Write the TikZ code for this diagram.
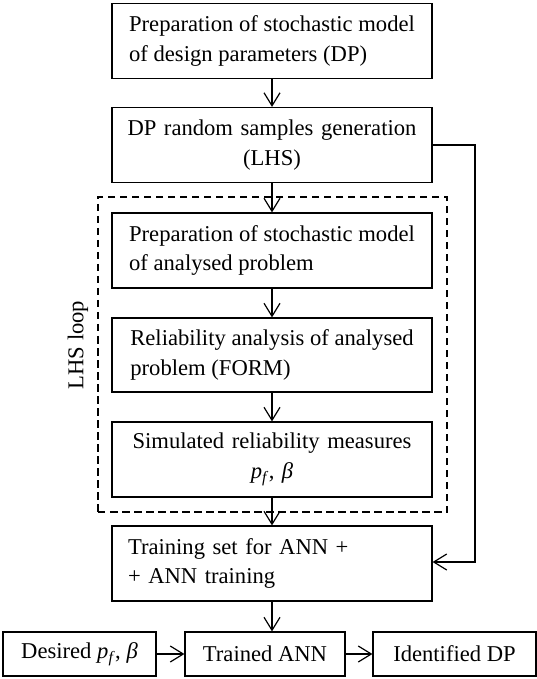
\documentclass[tikz,border=0pt]{standalone}
\usepackage{fontspec}
\setmainfont{Liberation Serif}
\usetikzlibrary{arrows.meta}
\begin{document}
\begin{tikzpicture}[x=1bp,y=-1bp,
  box/.style={draw,line width=1.2bp,minimum width=320bp,minimum height=75bp,inner xsep=0bp,anchor=center},
  ltxt/.style={align=left},
  ctxt/.style={text width=310bp,align=center},
  small/.style={draw,line width=1.2bp,minimum height=44bp,inner xsep=0bp,anchor=center},
  arr/.style={line width=1.2bp,-{Straight Barb[length=13bp,width=16bp,line width=1.2bp]}},
  every node/.style={font=\fontsize{22.7}{30}\selectfont}
]
\useasboundingbox (0,0) rectangle (537,679);
\node[box,ltxt] (b1) at (272,41) {Preparation of stochastic model\\of design parameters (DP)};
\node[box,ctxt] (b2) at (272,145) {DP random samples generation\\(LHS)};
\node[box,ltxt] (b3) at (272,250.5) {Preparation of stochastic model\\of analysed problem};
\node[box,ltxt,minimum height=74bp] (b4) at (272,355) {Reliability analysis of analysed\\problem (FORM)};
\node[box,ctxt] (b5) at (272,459.5) {Simulated reliability measures\\\textit{p}\textsubscript{\textit{f}}, \textit{β}};
\node[box,text width=288bp,align=left,inner xsep=16bp] (b6) at (272,563.5) {Training set for ANN +\\+ ANN training};
\node[small,minimum width=153bp] (d) at (79.5,654) {Desired \textit{p}\textsubscript{\textit{f}}, \textit{β}};
\node[small,minimum width=160bp] (t) at (265,654) {Trained ANN};
\node[small,minimum width=163bp] (i) at (454.5,654) {Identified DP};
\node[draw,line width=1.2bp,dash pattern=on 7.5bp off 4.5bp,minimum width=349bp,minimum height=315bp,inner sep=0bp] (loop) at (272.5,354.5) {};
\node[rotate=90] (lbl) at (78,345) {LHS loop};
\draw[arr] (b1) -- (b2);
\draw[arr] (b2) -- (b3);
\draw[arr] (b3) -- (b4);
\draw[arr] (b4) -- (b5);
\draw[arr] (b5) -- (b6);
\draw[arr] (b6.south) -- (b6.south |- t.north);
\draw[arr] (d) -- (t);
\draw[arr] (t) -- (i);
\coordinate (c1) at (475,145);
\coordinate (c2) at (475,562);
\draw[arr] (b2.east) -- (c1) -- (c2) -- (b6.east |- c2);
\end{tikzpicture}
\end{document}
